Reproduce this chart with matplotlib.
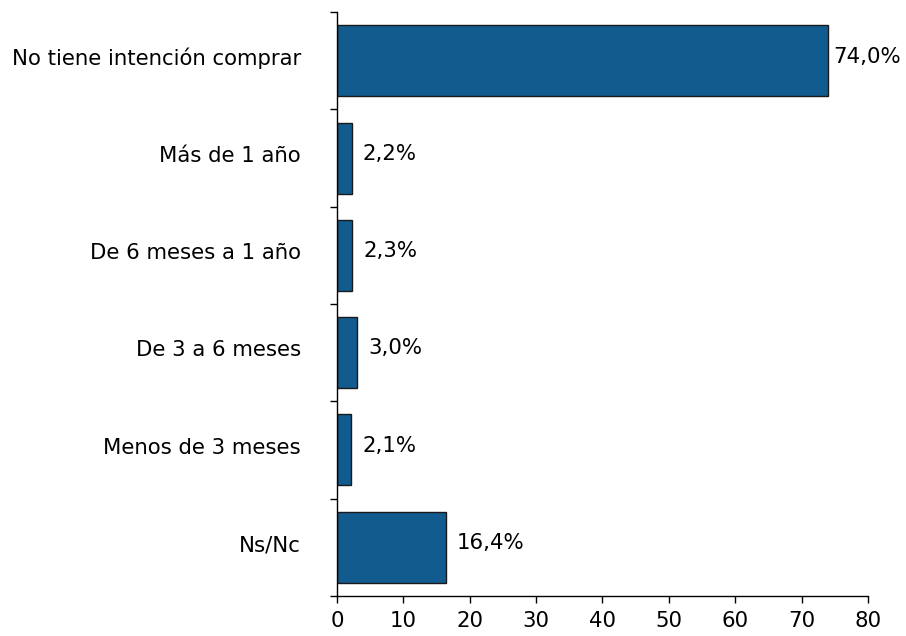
import matplotlib.pyplot as plt
import matplotlib.transforms as mtransforms
import numpy as np

categorias = ['No tiene intención comprar', 'Más de 1 año', 'De 6 meses a 1 año',
              'De 3 a 6 meses', 'Menos de 3 meses', 'Ns/Nc']
valores = [74.0, 2.2, 2.3, 3.0, 2.1, 16.4]
etiquetas = ['74,0%', '2,2%', '2,3%', '3,0%', '2,1%', '16,4%']
xticks = [0, 10, 20, 30, 40, 50, 60, 70, 80]


def main():
    fig = plt.figure(figsize=(9.06, 6.36), dpi=100)
    ax = fig.add_axes([0.372, 0.063, 0.586, 0.918])

    y = np.arange(len(categorias))[::-1]
    ax.barh(y, valores, height=0.73, color='#115b8e', edgecolor='#1a1a1a', linewidth=1.0)

    for yi, v, lab in zip(y, valores, etiquetas):
        off = 4 if v > 70 else 8
        ax.annotate(lab, (v, yi), xytext=(off, 3), textcoords='offset points',
                    va='center', ha='left', fontsize=15.3)

    ax.set_xlim(0, 80)
    ax.set_ylim(-0.5, len(categorias) - 0.5)
    ax.set_xticks(xticks)
    ax.set_xticklabels([str(t) for t in xticks], fontsize=15.3)
    ax.set_yticks(y)
    ax.set_yticklabels(categorias, fontsize=15.3)
    ax.set_yticks(np.arange(-0.5, len(categorias)), minor=True)
    ax.tick_params(axis='y', which='major', length=0, pad=26)
    ax.tick_params(axis='y', which='minor', length=5, width=1.0)
    ax.tick_params(axis='x', length=5, width=1.0, pad=6)

    # nudge category labels up a little
    shift = mtransforms.ScaledTranslation(0, 3 / 72, fig.dpi_scale_trans)
    for t in ax.get_yticklabels():
        t.set_transform(t.get_transform() + shift)

    for s in ['top', 'right']:
        ax.spines[s].set_visible(False)
    ax.spines['left'].set_linewidth(1.0)
    ax.spines['bottom'].set_linewidth(1.0)

    fig.savefig('out.png', dpi=100)


if __name__ == "__main__":
    main()
